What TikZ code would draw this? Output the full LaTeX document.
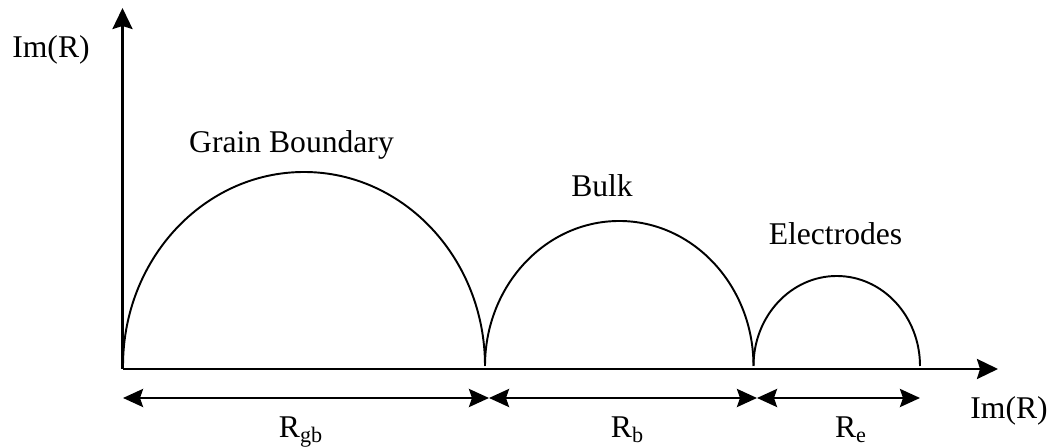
\documentclass[tikz,border=0pt]{standalone}
\usepackage{fontspec}
\setmainfont{Liberation Serif}
\usepackage{tikz}
\usetikzlibrary{arrows.meta,calc}

\begin{document}
\begin{tikzpicture}[x=0.02cm,y=0.02cm,
  axis/.style={line width=1.6pt,-{Stealth[length=4.2mm,width=4mm,inset=0.6mm]}},
  span/.style={line width=1.6pt,{Stealth[length=4mm,width=3.6mm,inset=0.6mm]}-{Stealth[length=4mm,width=3.6mm,inset=0.6mm]}},
  semi/.style={line width=1.1pt},
  lbl/.style={anchor=base,font=\fontsize{18}{21}\selectfont,inner sep=0pt}]
\useasboundingbox (0,0) rectangle (1051,448);
% ---------- axes ----------
\coordinate (O) at (122.5,79);
\coordinate (ytop) at (122.5,440);
\coordinate (xend) at (998,79);
\draw[axis] (O) -- (ytop);
\draw[axis] (O) -- (xend);
\node[lbl,anchor=base west] (imy) at (12,390) {Im(R)};
\node[lbl,anchor=base west] (imx) at (970,29) {Im(R)};
% ---------- semicircles ----------
\coordinate (a0) at (123,82);
\coordinate (a1) at (485,82);
\coordinate (a2) at (753.5,82);
\coordinate (a3) at (920,82);
\draw[semi] (a0) arc[start angle=180,end angle=0,x radius=181,y radius=194];
\draw[semi] (a1) arc[start angle=180,end angle=0,x radius=134.25,y radius=145];
\draw[semi] (a2) arc[start angle=180,end angle=0,x radius=83.25,y radius=90];
\node[lbl] (gb) at (291.5,295) {Grain Boundary};
\node[lbl] (bulk) at (602,251) {Bulk};
\node[lbl] (el) at (835.5,203) {Electrodes};
% ---------- resistances ----------
\coordinate (d0) at (123,50);
\coordinate (d1) at (489,50);
\coordinate (d2) at (757,50);
\coordinate (d3) at (920,50);
\draw[span] (d0) -- (d1);
\draw[span] (d1) -- (d2);
\draw[span] (d2) -- (d3);
\node[lbl] (rgb) at (301,10) {R\textsubscript{gb}};
\node[lbl] (rb) at (627.5,10) {R\textsubscript{b}};
\node[lbl] (re) at (851,10) {R\textsubscript{e}};
\end{tikzpicture}
\end{document}
